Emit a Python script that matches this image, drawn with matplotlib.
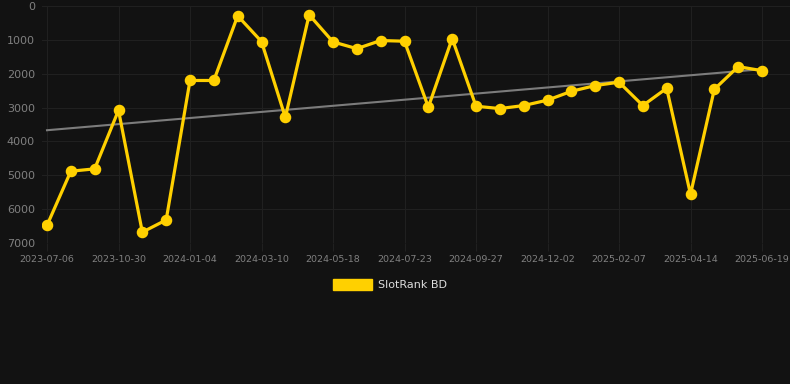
import matplotlib

matplotlib.use("Agg")
import matplotlib.pyplot as plt
import numpy as np
from matplotlib.patches import Rectangle

# rank per observation (lower = better), x axis is categorical
ranks = [6480, 4880, 4810, 3080, 6680, 6320, 2200, 2200, 290, 1050,
         3290, 260, 1060, 1260, 1020, 1040, 2990, 960, 2960, 3030,
         2940, 2780, 2520, 2350, 2250, 2940, 2430, 5560, 2460, 1790, 1910]
tick_idx = [0, 3, 6, 9, 12, 15, 18, 21, 24, 27, 30]
tick_labels = ["2023-07-06", "2023-10-30", "2024-01-04", "2024-03-10",
               "2024-05-18", "2024-07-23", "2024-09-27", "2024-12-02",
               "2025-02-07", "2025-04-14", "2025-06-19"]
y_ticks = [0, 1000, 2000, 3000, 4000, 5000, 6000, 7000]
series_name = "SlotRank BD"

BG = "#121212"
GOLD = "#ffd000"
GRID = "#202020"
TXT = "#808080"

W, H = 790, 384
fig = plt.figure(figsize=(W / 100, H / 100), dpi=100, facecolor=BG)
# axes box in pixel terms: left 42, right 790, top 6, bottom 243
ax = fig.add_axes([42 / W, 1 - 243 / H, (790 - 42) / W, (243 - 6) / H])
ax.set_facecolor(BG)

x = np.arange(len(ranks))
step = (762 - 47) / 30
ax.set_xlim(-(47 - 42) / step, 30 + (790 - 762) / step)
ax.set_ylim(7000, 0)

# linear trend over the series
coef = np.polyfit(x, ranks, 1)
ax.plot(x, np.polyval(coef, x), color="#7c7c7c", lw=1.5, zorder=2)
ax.plot(x, ranks, color=GOLD, lw=2.3, marker="o", ms=7.3, zorder=3)

ax.set_xticks(tick_idx)
ax.set_xticklabels(tick_labels)
ax.set_yticks(y_ticks)
ax.grid(True, color=GRID, lw=0.8, zorder=0)
ax.tick_params(axis="x", colors=GRID, labelcolor=TXT, labelsize=6.8,
               length=6, width=0.8, pad=3)
ax.tick_params(axis="y", length=0, labelcolor=TXT, labelsize=8, pad=5)
for s in ax.spines.values():
    s.set_visible(False)

# legend drawn manually in figure pixels
fig.patches.append(Rectangle((333 / W, 1 - 290 / H), 39 / W, 11 / H,
                             transform=fig.transFigure, color=GOLD))
fig.text(378 / W, 1 - 285 / H, series_name, color="#dddddd", fontsize=8,
         va="center", ha="left")

fig.savefig("out.png", dpi=100, facecolor=BG)
